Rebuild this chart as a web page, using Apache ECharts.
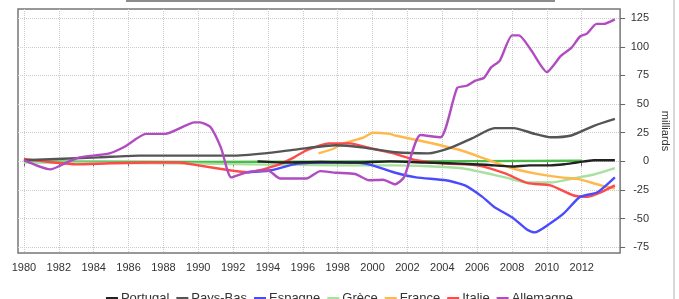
<!DOCTYPE html>
<html>
<head>
<meta charset="utf-8">
<script src="https://cdn.jsdelivr.net/npm/echarts@6/dist/echarts.min.js"></script>
<style>
  html, body { margin: 0; padding: 0; background: #fff; }
  #chart { width: 679px; height: 299px; }
</style>
</head>
<body>
<div id="chart"></div>
<script>
// [année, milliards]
const allemagne = [[1980, 1], [1981.5, -7], [1982.6, 0], [1983.2, 3.5], [1984.9, 7], [1985.8, 13], [1987, 24], [1988.1, 24],
  [1989.8, 34], [1990.1, 34], [1990.7, 30], [1991.3, 12], [1991.9, -14], [1992.8, -9.5], [1994, -8], [1994.7, -15],
  [1996.2, -15], [1997, -8.5], [1997.9, -10], [1999, -11], [1999.8, -16.5], [2000.6, -16], [2001.3, -20], [2001.8, -14],
  [2002.75, 23], [2003.9, 21], [2004.85, 64], [2005.4, 66], [2005.9, 70.5], [2006.4, 73], [2006.8, 82], [2007.3, 88],
  [2008, 110], [2008.4, 110], [2009.1, 97], [2010, 78], [2010.8, 92], [2011.4, 99], [2011.9, 109], [2012.3, 111.5],
  [2012.85, 120], [2013.25, 120], [2013.9, 124]]
const paysBas = [[1980, 1], [1984.3, 3.5], [1986.6, 5], [1990, 5], [1991.9, 5], [1993.8, 7], [1995.7, 10.5], [1997.9, 14],
  [1999.5, 12], [2001.3, 8], [2003.2, 7], [2004.5, 12], [2005.7, 20], [2007, 29], [2008.1, 29], [2009.3, 24],
  [2010.2, 21], [2011.4, 22.6], [2012.7, 31], [2013.9, 37]]
const portugal = [[1993.4, 0], [1995, -1], [1997, -0.5], [1999, -1], [2001, 0], [2003, -1], [2005, -2], [2006.5, -3],
  [2008, -4.5], [2009, -3.5], [2010.2, -3.5], [2011, -2.5], [2011.7, -1], [2012.7, 1], [2013.9, 1]]
const espagne = [[1992.8, -9.5], [1994.1, -8], [1995.7, -2], [1997.5, -1], [1999.1, -1], [2000, -3.5], [2001.2, -9.5],
  [2002.5, -14], [2004.2, -16.5], [2005.3, -21], [2006.3, -31], [2007, -40], [2008, -48.8], [2008.9, -60], [2009.3, -62],
  [2010.2, -54], [2011, -45], [2011.9, -31], [2012.9, -27], [2013.9, -14]]
const grece = [[1980, -1], [1990, -2], [1998, -3.5], [2001.3, -3.5], [2005.1, -6], [2007.6, -14], [2008.9, -18.5],
  [2010.2, -18.5], [2011.5, -15], [2012.7, -11.5], [2013.9, -6]]
const france = [[1996.9, 7], [1997.75, 11], [1998.3, 15.5], [1999.5, 21], [2000, 25], [2001, 24], [2001.3, 22.6],
  [2003.2, 16.5], [2005.1, 9.5], [2006.4, 2.6], [2008, -6], [2009.3, -10.5], [2010.8, -14], [2011.9, -15.7],
  [2013.1, -21], [2013.9, -23.5]]
const italie = [[1980, 2], [1981.7, -1], [1983, -2.6], [1984.9, -1.7], [1987.2, -1], [1988.9, -1], [1990, -3.5],
  [1991.9, -8], [1992.8, -9.5], [1994.5, -3.5], [1995.5, 3.5], [1996.2, 9.6], [1997.5, 15.7], [1998.7, 15.7],
  [2000, 11], [2001.2, 7], [2002.5, 1], [2004.2, -2], [2006, -3.5], [2007.6, -10.5], [2008.9, -19], [2010.2, -21],
  [2011.5, -29.6], [2012.3, -31], [2013.1, -27], [2013.9, -21]]
const base = [[1980, 0], [1990, -0.5], [2000, 0], [2012, 0.5]]

const xTicks = [1980, 1982, 1984, 1986, 1988, 1990, 1992, 1994, 1996, 1998, 2000, 2002, 2004, 2006, 2008, 2010, 2012]
const yTicks = [-75, -50, -25, 0, 25, 50, 75, 100, 125]
const noms = ['Portugal', 'Pays-Bas', 'Espagne', 'Grèce', 'France', 'Italie', 'Allemagne']

const FONT = 'Liberation Sans'
const chart = echarts.init(document.getElementById('chart'))

function ligne (name, data, color, z) {
  return {
    name: name,
    type: 'line',
    data: data,
    symbol: 'none',
    smooth: 0.2,
    z: z,
    lineStyle: { color: color, width: 2.4 },
    itemStyle: { color: color }
  }
}

chart.setOption({
  animation: false,
  textStyle: { fontFamily: FONT },
  grid: {
    left: 18,
    right: 52,
    top: 9,
    bottom: 46,
    show: true,
    borderColor: '#777',
    borderWidth: 1.5
  },
  legend: {
    data: noms,
    left: 'center',
    top: 287,
    itemWidth: 12,
    itemHeight: 3,
    itemGap: 7,
    icon: 'rect',
    textStyle: { fontSize: 13, color: '#333', fontFamily: FONT, padding: [0, 0, 0, -2] }
  },
  xAxis: {
    type: 'value',
    min: 1979.66,
    max: 2014.2,
    axisLine: { show: false },
    axisTick: { show: true, length: 5, customValues: xTicks, lineStyle: { color: '#666' } },
    axisLabel: {
      customValues: xTicks,
      fontSize: 11,
      color: '#333',
      margin: 9,
      formatter: function (v) { return String(v) }
    },
    splitLine: { show: true, lineStyle: { color: '#ccc', type: 'dotted', width: 1 } }
  },
  yAxis: {
    type: 'value',
    position: 'right',
    min: -80,
    max: 133,
    name: 'milliards',
    nameLocation: 'middle',
    nameRotate: -90,
    nameGap: 36,
    nameTextStyle: { fontSize: 11, color: '#333' },
    axisLine: { show: false },
    axisTick: { show: true, length: 5, customValues: yTicks, lineStyle: { color: '#666' } },
    axisLabel: {
      customValues: yTicks,
      fontSize: 11,
      color: '#333',
      align: 'right',
      margin: 29
    },
    splitLine: { show: true, lineStyle: { color: '#ccc', type: 'dotted', width: 1 } }
  },
  graphic: [
    { type: 'line', shape: { x1: 126, y1: 1, x2: 555, y2: 1 }, style: { stroke: '#666', lineWidth: 1.5 } },
    { type: 'line', shape: { x1: 674, y1: 0, x2: 674, y2: 299 }, style: { stroke: '#ccc', lineWidth: 1.5 } }
  ],
  series: [
    ligne('', base, '#4cbb4c', 1),
    ligne('Grèce', grece, '#a8e0a0', 2),
    ligne('France', france, '#ffb84a', 3),
    ligne('Italie', italie, '#ff4a4a', 4),
    ligne('Espagne', espagne, '#4a4aff', 5),
    ligne('Pays-Bas', paysBas, '#555555', 6),
    ligne('Portugal', portugal, '#222222', 7),
    ligne('Allemagne', allemagne, '#b04cc0', 8)
  ]
})
</script>
</body>
</html>
